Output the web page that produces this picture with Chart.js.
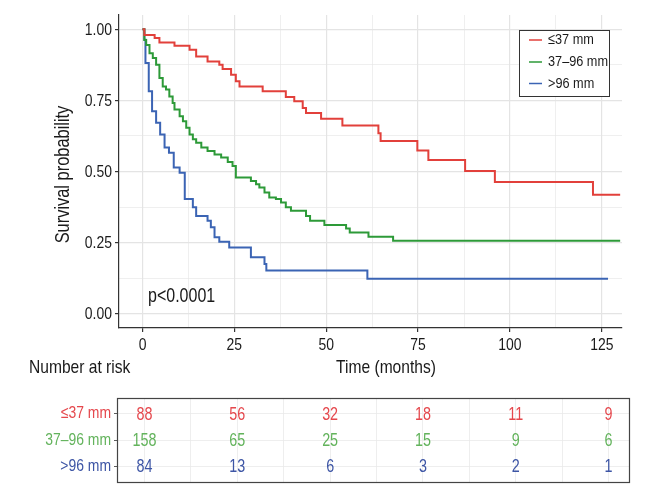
<!DOCTYPE html>
<html>
<head>
<meta charset="utf-8">
<script src="https://cdn.jsdelivr.net/npm/chart.js@4/dist/chart.umd.min.js"></script>
<style>
  html, body { margin: 0; padding: 0; background: #ffffff; }
  #wrap { position: relative; width: 660px; height: 500px; }
  #km { position: absolute; left: 0; top: 0; }
  #risk { position: absolute; left: 0; top: 390px; }
</style>
</head>
<body>
<div id="wrap">
  <canvas id="km" width="660" height="390"></canvas>
  <canvas id="risk" width="660" height="110"></canvas>
</div>
<script>
(function() {
    'use strict';

    // Grupos (tamanho do tumor)
    var groupLabels = ['\u226437 mm', '37\u201396 mm', '>96 mm'];
    var lineColors = ['#E2403B', '#2D9A38', '#3B64B4'];
    var tableColors = ['#E5484D', '#63B35C', '#3D55A5'];

    // Curvas de Kaplan-Meier: tempo (meses) e sobrevida após cada queda
    var smallTimes = [0, 0.5, 3.3, 4.6, 8.7, 12.8, 14.6, 17.7, 20.9, 21.8, 24.1, 25.4, 26.4, 32.7, 39.0, 41.3, 43.6, 44.5, 48.6, 54.4, 64.2, 64.8, 74.8, 77.8, 87.8, 95.9, 122.6, 130];
    var smallSurv = [1.0, 0.980, 0.969, 0.953, 0.942, 0.928, 0.904, 0.887, 0.875, 0.860, 0.840, 0.817, 0.799, 0.782, 0.762, 0.747, 0.723, 0.706, 0.685, 0.662, 0.634, 0.607, 0.574, 0.540, 0.502, 0.463, 0.418, 0.418];

    var midTimes = [0, 0.5, 1.0, 1.9, 2.8, 3.7, 4.6, 5.5, 6.4, 7.3, 8.2, 8.7, 10.1, 11.0, 11.9, 12.8, 13.7, 14.6, 16.0, 17.7, 19.6, 21.4, 23.2, 24.5, 25.4, 29.5, 30.9, 31.8, 33.2, 34.5, 36.3, 37.7, 39.0, 40.4, 44.5, 45.6, 49.5, 55.4, 56.4, 61.5, 68.2, 130];
    var midSurv = [1.0, 0.962, 0.945, 0.916, 0.899, 0.875, 0.829, 0.799, 0.788, 0.764, 0.741, 0.718, 0.694, 0.677, 0.654, 0.630, 0.613, 0.601, 0.584, 0.572, 0.560, 0.549, 0.533, 0.519, 0.479, 0.467, 0.455, 0.444, 0.426, 0.409, 0.403, 0.391, 0.374, 0.362, 0.344, 0.327, 0.312, 0.300, 0.286, 0.271, 0.257, 0.257];

    var largeTimes = [0, 0.5, 0.8, 1.7, 2.6, 3.7, 4.8, 6.0, 7.2, 8.5, 10.1, 11.5, 13.7, 14.6, 17.7, 18.6, 19.6, 20.9, 23.6, 29.5, 33.2, 33.7, 61.2, 126.7];
    var largeSurv = [1.0, 0.963, 0.881, 0.782, 0.712, 0.671, 0.630, 0.584, 0.566, 0.514, 0.496, 0.403, 0.374, 0.344, 0.327, 0.304, 0.269, 0.253, 0.233, 0.199, 0.175, 0.152, 0.123, 0.123];

    // Eixos
    var timeBreaks = [0, 25, 50, 75, 100, 125];
    var timeGrid = [0, 12.5, 25, 37.5, 50, 62.5, 75, 87.5, 100, 112.5, 125];
    var survBreaks = [0, 0.25, 0.5, 0.75, 1.0];
    var survGrid = [0, 0.125, 0.25, 0.375, 0.5, 0.625, 0.75, 0.875, 1.0];

    // Tabela de número em risco
    var riskTimes = [0, 25, 50, 75, 100, 125];
    var riskSmall = [88, 56, 32, 18, 11, 9];
    var riskMid = [158, 65, 25, 15, 9, 6];
    var riskLarge = [84, 13, 6, 3, 2, 1];

    var FONT = "'Liberation Sans', Arial, sans-serif";
    var NARROW = 0.82; // fonte condensada (como no original)
    var INK = '#1a1a1a';
    var GRID = '#e4e4e4';

    function toPoints(times, surv) {
        return times.map(function(t, i) { return { x: t, y: surv[i] }; });
    }

    function isMajor(value, breaks) {
        return breaks.some(function(b) { return Math.abs(b - value) < 1e-6; });
    }

    /**
     * Escreve texto condensado horizontalmente
     */
    function narrowText(ctx, text, x, y, size, color, align, angle) {
        ctx.save();
        ctx.translate(x, y);
        if (angle) ctx.rotate(angle);
        ctx.scale(NARROW, 1);
        ctx.font = size + 'px ' + FONT;
        ctx.fillStyle = color;
        ctx.textAlign = align || 'left';
        ctx.textBaseline = 'middle';
        ctx.fillText(text, 0, 0);
        ctx.restore();
    }

    function curve(idx, times, surv) {
        return {
            label: groupLabels[idx],
            data: toPoints(times, surv),
            borderColor: lineColors[idx],
            backgroundColor: lineColors[idx],
            borderWidth: 2,
            pointRadius: 0,
            stepped: 'before',
            fill: false
        };
    }

    // Rótulos dos eixos, legenda, p-valor e títulos
    var kmDecor = {
        id: 'kmDecor',
        afterDraw: function(chart) {
            var ctx = chart.ctx;
            var x = chart.scales.x, y = chart.scales.y;
            var a = chart.chartArea;

            timeBreaks.forEach(function(v) {
                narrowText(ctx, String(v), x.getPixelForValue(v), a.bottom + 17, 17, INK, 'center');
            });
            survBreaks.forEach(function(v) {
                narrowText(ctx, v.toFixed(2), a.left - 7, y.getPixelForValue(v) + 1, 17, INK, 'right');
            });
            narrowText(ctx, 'Survival probability', 63, (a.top + a.bottom) / 2 + 3, 20, INK, 'center', -Math.PI / 2);
            narrowText(ctx, 'Time (months)', 386, 368, 19, INK, 'center');
            narrowText(ctx, 'Number at risk', 29, 368, 19, INK, 'left');

            // p-valor
            narrowText(ctx, 'p<0.0001', x.getPixelForValue(1.5), y.getPixelForValue(0.06), 19.5, INK, 'left');

            // caixa da legenda
            ctx.save();
            ctx.fillStyle = '#ffffff';
            ctx.fillRect(519, 30, 90, 66);
            ctx.strokeStyle = '#333333';
            ctx.lineWidth = 1;
            ctx.strokeRect(519.5, 30.5, 90, 66);
            var rowsY = [40, 62, 83.5];
            chart.data.datasets.forEach(function(ds, i) {
                ctx.strokeStyle = ds.borderColor;
                ctx.lineWidth = 1.5;
                ctx.beginPath();
                ctx.moveTo(529, rowsY[i]);
                ctx.lineTo(542, rowsY[i]);
                ctx.stroke();
                narrowText(ctx, ds.label, 548, rowsY[i], 15.5, INK, 'left');
            });
            ctx.restore();
        }
    };

    new Chart(document.getElementById('km').getContext('2d'), {
        type: 'line',
        data: {
            datasets: [
                curve(0, smallTimes, smallSurv),
                curve(1, midTimes, midSurv),
                curve(2, largeTimes, largeSurv)
            ]
        },
        options: {
            responsive: false,
            animation: false,
            devicePixelRatio: 1,
            layout: { padding: { left: 0, right: 38, top: 15, bottom: 0 } },
            plugins: {
                legend: { display: false },
                tooltip: { enabled: false }
            },
            scales: {
                x: {
                    type: 'linear',
                    min: -6.4,
                    max: 130.5,
                    afterFit: function(scale) { scale.height = 62; },
                    afterBuildTicks: function(scale) {
                        scale.ticks = timeGrid.map(function(v) { return { value: v }; });
                    },
                    grid: {
                        color: GRID,
                        lineWidth: function(c) { return isMajor(c.tick.value, timeBreaks) ? 1.2 : 0.6; },
                        tickLength: 4,
                        tickColor: function(c) { return isMajor(c.tick.value, timeBreaks) ? '#333333' : 'rgba(0,0,0,0)'; }
                    },
                    border: { display: true, color: '#333333', width: 1.2 },
                    ticks: { display: false }
                },
                y: {
                    type: 'linear',
                    min: -0.05,
                    max: 1.05,
                    afterFit: function(scale) { scale.width = 119; },
                    afterBuildTicks: function(scale) {
                        scale.ticks = survGrid.map(function(v) { return { value: v }; });
                    },
                    grid: {
                        color: GRID,
                        lineWidth: function(c) { return isMajor(c.tick.value, survBreaks) ? 1.2 : 0.6; },
                        tickLength: 4,
                        tickColor: function(c) { return isMajor(c.tick.value, survBreaks) ? '#333333' : 'rgba(0,0,0,0)'; }
                    },
                    border: { display: true, color: '#333333', width: 1.2 },
                    ticks: { display: false }
                }
            }
        },
        plugins: [kmDecor]
    });

    // Tabela "Number at risk"
    var riskRows = [riskSmall, riskMid, riskLarge];

    var riskDecor = {
        id: 'riskDecor',
        afterDraw: function(chart) {
            var ctx = chart.ctx;
            var x = chart.scales.x, y = chart.scales.y;
            var a = chart.chartArea;
            riskRows.forEach(function(row, r) {
                var py = y.getPixelForValue(r + 1);
                narrowText(ctx, groupLabels[r], a.left - 6, py, 17, tableColors[r], 'right');
                row.forEach(function(n, i) {
                    narrowText(ctx, String(n), x.getPixelForValue(riskTimes[i]), py + 1, 17.5, tableColors[r], 'center');
                });
            });
            ctx.save();
            ctx.strokeStyle = '#444444';
            ctx.lineWidth = 1.2;
            ctx.strokeRect(Math.round(a.left) + 0.5, Math.round(a.top) + 0.5,
                Math.round(a.right - a.left), Math.round(a.bottom - a.top));
            ctx.restore();
        }
    };

    new Chart(document.getElementById('risk').getContext('2d'), {
        type: 'line',
        data: { datasets: [] },
        options: {
            responsive: false,
            animation: false,
            devicePixelRatio: 1,
            layout: { padding: { left: 0, right: 31, top: 8, bottom: 0 } },
            plugins: {
                legend: { display: false },
                tooltip: { enabled: false }
            },
            scales: {
                x: {
                    type: 'linear',
                    min: -7.4,
                    max: 130.5,
                    afterFit: function(scale) { scale.height = 18; },
                    afterBuildTicks: function(scale) {
                        scale.ticks = timeGrid.map(function(v) { return { value: v }; });
                    },
                    grid: { color: '#eaeaea', lineWidth: 0.8, drawTicks: false },
                    border: { display: false },
                    ticks: { display: false }
                },
                y: {
                    type: 'linear',
                    min: 0.4,
                    max: 3.6,
                    reverse: true,
                    afterFit: function(scale) { scale.width = 117; },
                    afterBuildTicks: function(scale) {
                        scale.ticks = [1, 2, 3].map(function(v) { return { value: v }; });
                    },
                    grid: { color: '#eaeaea', lineWidth: 0.8, tickLength: 3, tickColor: '#333333' },
                    border: { display: false },
                    ticks: { display: false }
                }
            }
        },
        plugins: [riskDecor]
    });
})();
</script>
</body>
</html>
